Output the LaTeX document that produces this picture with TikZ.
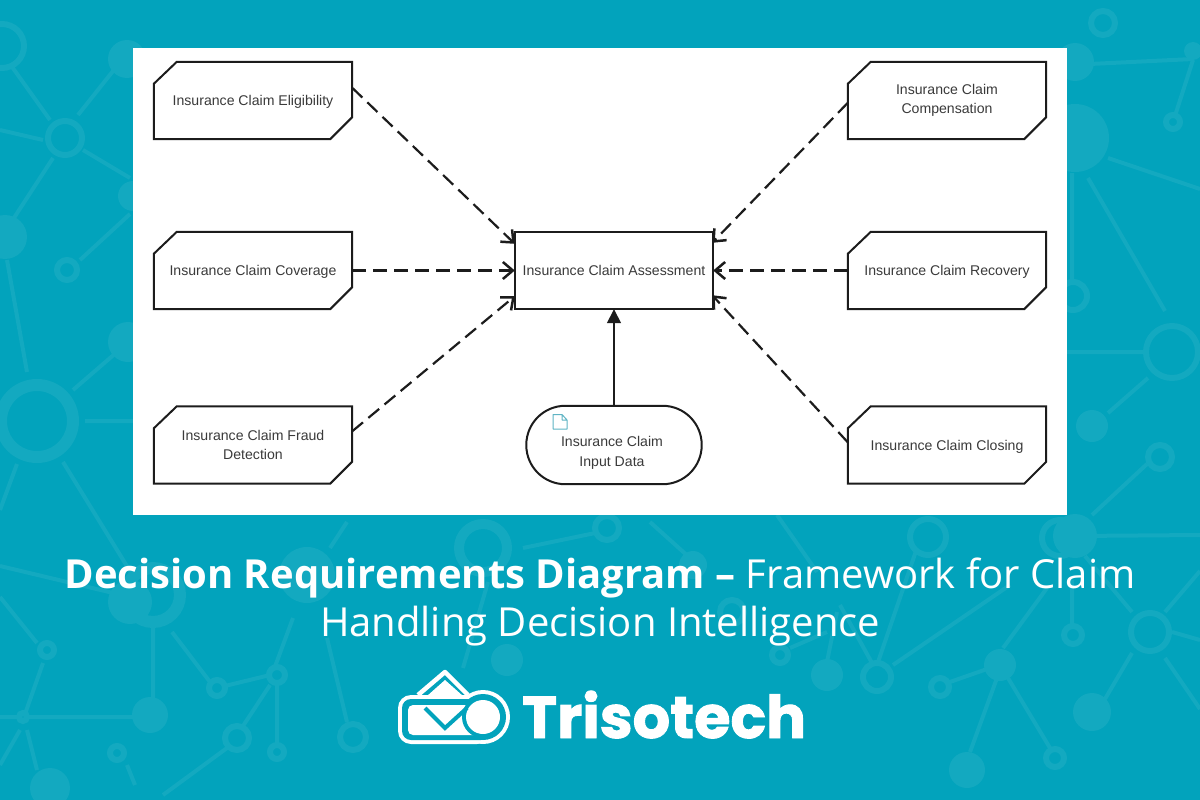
\documentclass[tikz,border=0pt]{standalone}
\usepackage{fontspec}
\setmainfont{Liberation Sans}
\newfontfamily\titlefont{Open Sans}
\newfontfamily\logofont[BoldFeatures={FakeBold=1.5}]{Poppins}
\usetikzlibrary{arrows.meta,calc,bending}
\definecolor{bgteal}{HTML}{02A3BC}
\definecolor{netteal}{HTML}{13A9C0}
\definecolor{inktext}{HTML}{3A3A3A}
\definecolor{inkline}{HTML}{1C1C1C}
\definecolor{iconteal}{HTML}{5FB4C4}
\tikzset{
  x=1pt,y=-1pt,
  boxlabel/.style={font=\fontsize{14.1}{19.5}\selectfont,text=inktext,align=center,inner sep=0pt,minimum width=198pt,minimum height=77pt},
  dashedflow/.style={draw=inkline,line width=2.2pt,dash pattern=on 14pt off 7pt,-{Straight Barb[length=10pt,width=17pt,line width=2.5pt,flex=0]}},
  solidflow/.style={draw=inkline,line width=1.5pt,-{Triangle[length=14pt,width=14pt,flex=0]}},
  outline/.style={draw=inkline,line width=2pt,fill=white},
  netline/.style={draw=netteal,line width=4pt},
  netring/.style={draw=netteal,fill=bgteal,line width=6pt},
  logowhite/.style={fill=white},
  logogap/.style={fill=bgteal}
}
\newcommand{\decisionframe}[1]{%
  \path[outline] ($(#1.north west)+(0,22)$) -- ($(#1.north west)+(23,0)$) -- (#1.north east) -- ($(#1.south east)+(0,-22)$) -- ($(#1.south east)+(-22,0)$) -- (#1.south west) -- cycle;}
\begin{document}
\begin{tikzpicture}
\useasboundingbox (0,0) rectangle (1200,800);
\fill[bgteal] (0,0) rectangle (1200,800);
% background network
\draw[netline]
 (10,64)--(50,120) (0,130)--(43,140) (78,115)--(117,66) (83,150)--(130,178) (53,158)--(10,224) (80,260)--(130,214)
 (7,260)--(27,372) (73,390)--(117,352) (85,421)--(133,421) (63,462)--(133,576) (17,464)--(0,510) (0,566)--(130,597)
 (0,597)--(37,643) (43,663)--(25,714) (0,717)--(153,717) (20,730)--(0,765) (27,730)--(37,770) (127,765)--(135,785)
 (1090,64)--(1193,59) (1173,122)--(1193,60) (1108,158)--(1200,189) (1088,178)--(1165,311) (1072,173)--(1072,286)
 (1067,352)--(1145,352) (1148,378)--(1108,413) (1147,464)--(1092,515) (1075,536)--(1200,535) (1085,556)--(1132,612)
 (1132,653)--(1105,699) (1172,632)--(1200,640) (1165,612)--(1200,571) (1165,658)--(1200,709) (1072,580)--(1072,635)
 (153,628)--(153,698) (172,632)--(210,682) (225,686)--(270,675) (243,726)--(270,685) (277,685)--(277,745) (227,748)--(163,795)
 (327,638)--(347,722) (293,618)--(273,672) (523,548)--(600,532) (488,582)--(463,668) (347,522)--(330,548)
 (877,665)--(917,548) (893,665)--(1010,585) (1003,648)--(1047,588) (997,678)--(970,752) (1008,678)--(1050,748)
 (947,683)--(990,668) (872,663)--(840,605) (777,515)--(817,572) (827,662)--(837,612) (790,648)--(827,632) (650,522)--(690,558);
\foreach \cx/\cy/\cr in {2/46/22,65/138/17,67/270/10,47/650/7,23/717/4,117/753/7,1103/23/12,1173/122/7,1073/296/14,1172/352/26,1160/457/12,1150/632/19,1073/635/9,217/688/8,277/675/8,237/738/12,277/752/7,353/737/13,928/537/18,1060/538/18,607/528/12,877/677/14,940/687/9,1055/758/9,780/655/8,732/612/12}
  \draw[netring] (\cx,\cy) circle[radius=\cr];
\draw[netteal,fill=bgteal,line width=12pt] (37,421) circle[radius=36];
\draw[netteal,fill=bgteal,line width=12pt] (153,595) circle[radius=27];
\draw[netteal,fill=bgteal,line width=10pt] (483,548) circle[radius=24];
\foreach \cx/\cy/\cr in {5/237/22,127/59/19,133/196/15,128/342/20,130/602/22,1075/138/34,1075/62/19,1193/51/9,1092/426/16,1075/536/22,1092/712/19,150/715/18,50/788/20,307/575/28,507/660/16,827/675/16,1000/665/16,967/770/18,693/565/14}
  \fill[netteal] (\cx,\cy) circle[radius=\cr];
% white panel
\fill[white] (133,48) rectangle (1067,515);
% nodes
\node[boxlabel] (elig) at (253,100.5) {};
\node[boxlabel] (cover) at (253,270.5) {};
\node[boxlabel] (fraud) at (253,445) {};
\node[boxlabel] (comp) at (947,100.5) {};
\node[boxlabel] (recov) at (947,270.5) {};
\node[boxlabel] (closing) at (947,445) {};
\node[boxlabel] (assess) at (614,270.5) {};
\node[boxlabel,minimum width=175pt,minimum height=78pt] (input) at (614,445) {};
\decisionframe{elig}\decisionframe{cover}\decisionframe{fraud}
\decisionframe{comp}\decisionframe{recov}\decisionframe{closing}
\draw[outline] (assess.north west) rectangle (assess.south east);
\draw[outline,rounded corners=39pt] (input.north west) rectangle (input.south east);
\node[boxlabel] at ($(elig.center)+(0,1)$) {Insurance Claim Eligibility};
\node[boxlabel] at ($(cover.center)+(0,1)$) {Insurance Claim Coverage};
\node[boxlabel] at ($(fraud.center)+(0,0)$) {Insurance Claim Fraud\\Detection};
\node[boxlabel] at ($(comp.center)+(0,0)$) {Insurance Claim\\Compensation};
\node[boxlabel] at ($(recov.center)+(0,1)$) {Insurance Claim Recovery};
\node[boxlabel] at ($(closing.center)+(0,1.5)$) {Insurance Claim Closing};
\node[boxlabel] at (assess.center) {Insurance Claim Assessment};
\node[boxlabel] at ($(input.center)+(-2,8)$) {Insurance Claim\\Input Data};
% document icon
\draw[iconteal,line width=1pt,line join=round] (553,414.5)--(562,414.5)--(567,420)--(567,429)--(553,429)--cycle (562,414.5)--(562,420)--(567,420);
% connectors
\draw[dashedflow] ($(elig.north east)+(0,26)$) -- ($(assess.north west)+(0,12)$);
\draw[dashedflow] (cover.east) -- (assess.west);
\draw[dashedflow] ($(fraud.north east)+(0,25)$) -- ($(assess.south west)+(0,-13)$);
\draw[dashedflow] ($(comp.north west)+(0,41)$) -- ($(assess.north east)+(-1,11)$);
\draw[dashedflow] (recov.west) -- (assess.east);
\draw[dashedflow] ($(closing.north west)+(0,36)$) -- ($(assess.south east)+(-1,-14)$);
\draw[solidflow] (input.north) -- (assess.south);
% title
\node[font=\titlefont\fontsize{40}{48}\selectfont,text=white,align=center,inner sep=0pt] (title) at (600,602) {\textbf{Decision Requirements Diagram –} Framework for Claim\\Handling Decision Intelligence};
% logo
\draw[white,line width=4.5pt,line join=round] (418,695)--(445,672)--(468,695);
\fill[white] (445,680)--(427,696)--(463,696)--cycle;
\path[logowhite,rounded corners=13pt] (398,695) rectangle (490,744);
\fill[white] (483,717) circle[radius=27];
\path[logogap,rounded corners=9pt] (402,699) rectangle (490,740);
\fill[bgteal] (483,717) circle[radius=23];
\path[logowhite,rounded corners=5pt] (408,705) rectangle (480,735);
\fill[bgteal] (483,717) circle[radius=21];
\fill[white] (483,717) circle[radius=17];
\draw[bgteal,line width=4pt] (425,708)--(445,728)--(467,708);
\node[font=\logofont\bfseries\fontsize{59}{59}\selectfont,text=white,inner sep=0pt,anchor=base west] (logotext) at (522,738) {Trisotech};
\end{tikzpicture}
\end{document}
